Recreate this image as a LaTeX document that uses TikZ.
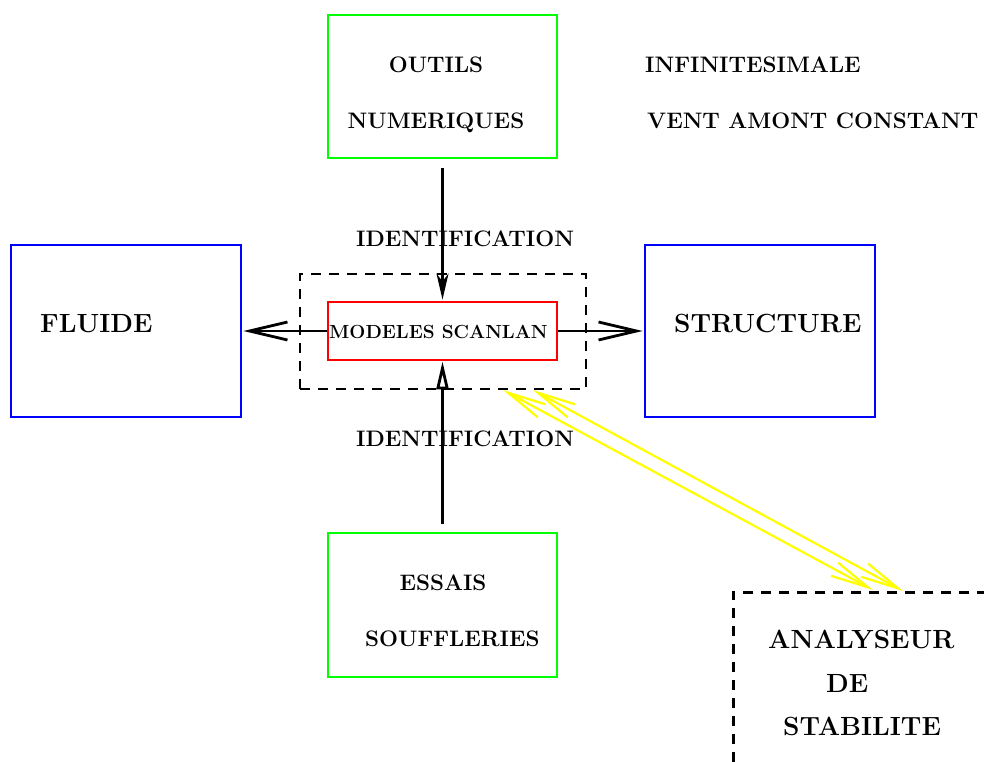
\documentclass[tikz,border=0pt]{standalone}
\usepackage{fontspec}
\usetikzlibrary{arrows.meta}
\definecolor{xgreen}{RGB}{0,255,0}
\definecolor{xblue}{RGB}{0,0,255}
\definecolor{xred}{RGB}{255,0,0}
\definecolor{xyellow}{RGB}{255,255,0}
\begin{document}
\begin{tikzpicture}[x=1pt,y=-1pt,
  box/.style={draw, line width=2.8pt, inner sep=0pt, rectangle},
  dashbox/.style={box, line width=2.5pt, dash pattern=on 10pt off 8pt},
  txt/.style={inner sep=0pt, font=\fontsize{22.4}{27}\selectfont\bfseries},
  bigtxt/.style={inner sep=0pt, font=\fontsize{26.3}{31}\selectfont\bfseries},
  smalltxt/.style={inner sep=0pt, font=\fontsize{19}{23}\selectfont\bfseries},
  conn/.style={line width=2.8pt},
  ylw/.style={draw=xyellow, line width=2.2pt, {Straight Barb[length=38pt,width=15pt]}-{Straight Barb[length=38pt,width=15pt]}}
]
\useasboundingbox (0,0) rectangle (984,762);

% boxes
\node[box, draw=xgreen, minimum width=229pt, minimum height=143pt] (outils) at (442.5,86.5) {};
\node[box, draw=xblue, minimum width=230pt, minimum height=172pt] (fluide) at (126,331) {};
\node[box, draw=xblue, minimum width=230pt, minimum height=172pt] (struct) at (760,331) {};
\node[dashbox, minimum width=286pt, minimum height=115pt] (dbox) at (443,331.5) {};
\node[box, draw=xred, minimum width=229pt, minimum height=58pt] (model) at (442.5,331) {};
\node[box, draw=xgreen, minimum width=229pt, minimum height=144pt] (essais) at (442.5,605) {};
\begin{scope}
\clip (0,0) rectangle (984,762);
\node[dashbox, anchor=north west, minimum width=400pt, minimum height=300pt] (anal) at (732,591) {};
\end{scope}

% texts
\node[txt, anchor=base] (t1) at (436,73) {OUTILS};
\node[txt, anchor=base] (t2) at (436,129) {NUMERIQUES};
\node[txt, anchor=base west] (t3) at (645,73) {INFINITESIMALE};
\node[txt, anchor=base west] (t4) at (647,129) {VENT AMONT CONSTANT};
\node[txt, anchor=base west] (id1) at (356,246) {IDENTIFICATION};
\node[txt, anchor=base west] (id2) at (356,446) {IDENTIFICATION};
\node[bigtxt, anchor=base west] (t5) at (40,332) {FLUIDE};
\node[bigtxt, anchor=base west] (t6) at (674,332) {STRUCTURE};
\node[smalltxt, anchor=base west] (t7) at (329,338) {MODELES SCANLAN};
\node[txt, anchor=base] (t8) at (443,590) {ESSAIS};
\node[txt, anchor=base west] (t9) at (365,646) {SOUFFLERIES};
\node[bigtxt, anchor=base west] (t10) at (768,648) {ANALYSEUR};
\node[bigtxt, anchor=base west] (t11) at (826,692) {DE};
\node[bigtxt, anchor=base west] (t12) at (783,735) {STABILITE};

% connectors
\draw[conn, -{Stealth[length=26pt,width=12pt,inset=8pt]}] ([yshift=-9pt]outils.south) -- ([yshift=1pt]model.north);
\draw[conn, -{Triangle[open,length=28pt,width=12pt]}] ([yshift=8pt]essais.north) -- (model.south);
\draw[conn, -{Straight Barb[length=38pt,width=18pt]}] (model.west) -- ([xshift=1pt]fluide.east);
\draw[conn, -{Straight Barb[length=38pt,width=18pt]}] (model.east) -- ([xshift=-1pt]struct.west);

\coordinate (ya1) at (503,390);
\coordinate (ya2) at (533,390);
\coordinate (yb1) at (873,590);
\coordinate (yb2) at (903,591);
\draw[ylw] (ya1) -- (yb1);
\draw[ylw] (ya2) -- (yb2);
\end{tikzpicture}
\end{document}
